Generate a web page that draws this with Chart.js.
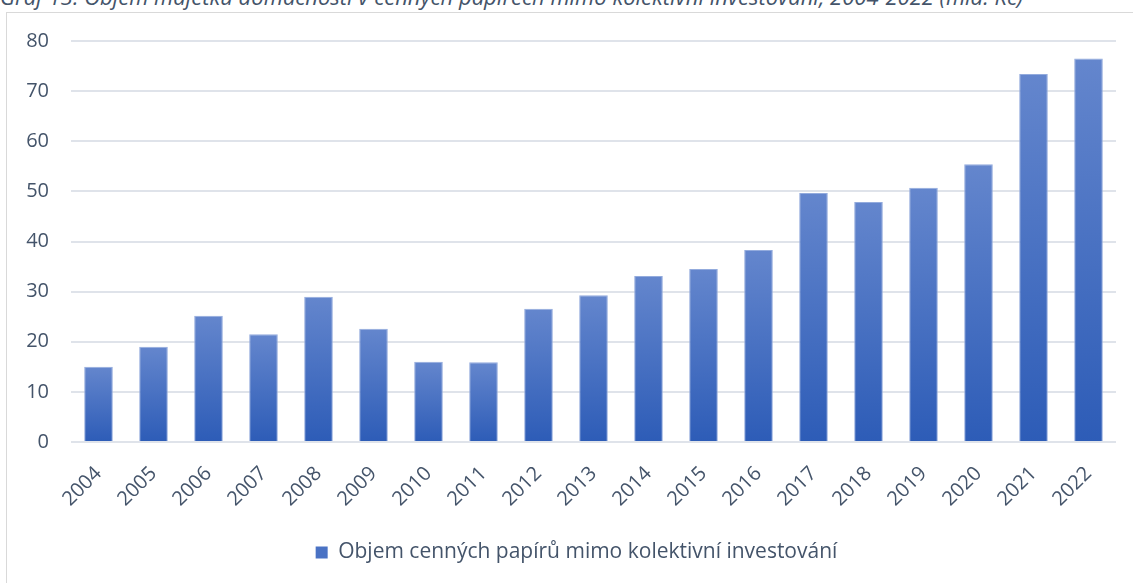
<!DOCTYPE html>
<html>
<head>
<meta charset="utf-8">
<script src="https://cdn.jsdelivr.net/npm/chart.js@4"></script>
<style>
  html, body { margin: 0; padding: 0; background: #fff; overflow: hidden; }
  body { width: 1133px; height: 583px; position: relative; font-family: "Open Sans", sans-serif; }
  #title {
    position: absolute; left: 0; top: -15px; white-space: nowrap;
    font: italic 22px/22px "Open Sans", sans-serif; color: #44546a;
  }
  #frame {
    position: absolute; left: 6px; top: 12px; width: 1127px; height: 571px;
    border-top: 1px solid #d9d9d9; border-left: 1px solid #d9d9d9;
  }
  #frame canvas { display: block; }
</style>
</head>
<body>
<div id="title">Graf 13: Objem majetku domácností v cenných papírech mimo kolektivní investování, 2004-2022 (mld. Kč)</div>
<div id="frame"><canvas id="c" width="1126" height="570"></canvas></div>
<script>
const years = ['2004', '2005', '2006', '2007', '2008', '2009', '2010', '2011', '2012', '2013',
               '2014', '2015', '2016', '2017', '2018', '2019', '2020', '2021', '2022'];
const volume = [15.0, 19.0, 25.2, 21.5, 29.0, 22.6, 16.0, 15.9, 26.6, 29.3,
                33.1, 34.5, 38.3, 49.7, 47.9, 50.7, 55.4, 73.4, 76.5];
const seriesName = 'Objem cenných papírů mimo kolektivní investování';
const yTicks = [0, 10, 20, 30, 40, 50, 60, 70, 80];

const textColor = '#44546a';
const gridColor = '#dfe3ea';

function barFill(c) {
  const chart = c.chart;
  if (c.type !== 'data' || !chart.chartArea) return '#4a72c4';
  const y = chart.scales.y;
  const top = y.getPixelForValue(c.raw);
  const bottom = y.getPixelForValue(0);
  const g = chart.ctx.createLinearGradient(0, top, 0, bottom);
  g.addColorStop(0, '#6486cd');
  g.addColorStop(1, '#2d5cb7');
  return g;
}

// the legend sits a little right of the canvas centre in the original
const legendShift = {
  id: 'legendShift',
  afterLayout(chart) {
    chart.legend.left += 15;
    chart.legend.right += 15;
  }
};

new Chart(document.getElementById('c'), {
  type: 'bar',
  data: {
    labels: years,
    datasets: [{
      label: seriesName,
      data: volume,
      backgroundColor: barFill,
      borderColor: '#93abdd',
      borderWidth: 1,
      categoryPercentage: 1,
      barPercentage: 0.52
    }]
  },
  plugins: [legendShift],
  options: {
    responsive: false,
    animation: false,
    layout: { padding: { top: 28, right: 17, bottom: 10, left: 0 } },
    plugins: {
      tooltip: { enabled: false },
      legend: {
        position: 'bottom',
        labels: {
          color: textColor,
          font: { family: 'Open Sans', size: 21 },
          boxWidth: 12,
          boxHeight: 12,
          padding: 8,
          generateLabels: (chart) => [{
            text: seriesName,
            fillStyle: '#4a72c4',
            strokeStyle: '#4a72c4',
            lineWidth: 0,
            fontColor: textColor,
            datasetIndex: 0
          }]
        }
      }
    },
    scales: {
      x: {
        grid: { display: false },
        border: { display: false },
        ticks: {
          color: textColor,
          font: { family: 'Open Sans', size: 20 },
          minRotation: 45,
          maxRotation: 45,
          padding: 12,
          labelOffset: 0
        },
        afterFit: (s) => { s.height = 92; }
      },
      y: {
        min: 0,
        max: 80,
        afterBuildTicks: (s) => { s.ticks = yTicks.map(v => ({ value: v })); },
        grid: { color: gridColor, lineWidth: 2, drawTicks: false },
        border: { display: false },
        ticks: {
          color: textColor,
          font: { family: 'Open Sans', size: 20 },
          padding: 22
        },
        afterFit: (s) => { s.width = 64; s.paddingTop = 0; s.paddingBottom = 0; }
      }
    }
  }
});
</script>
</body>
</html>
